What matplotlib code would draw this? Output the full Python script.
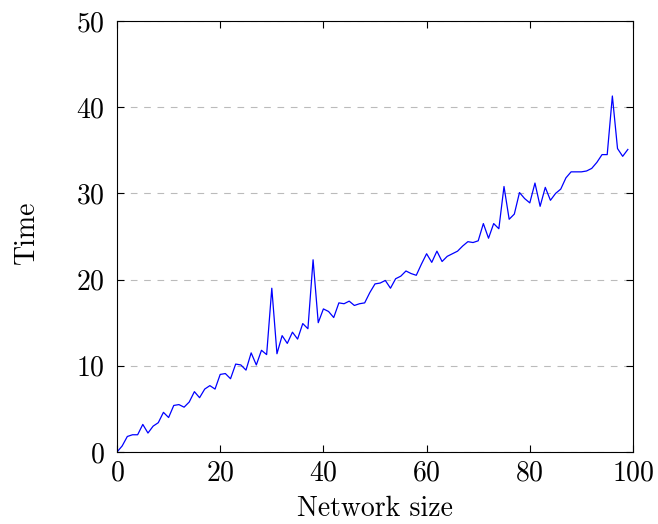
import matplotlib
matplotlib.use("Agg")
import matplotlib.pyplot as plt

plt.rcParams['font.family'] = 'serif'
plt.rcParams['font.serif'] = ['cmr10', 'DejaVu Serif']
plt.rcParams['mathtext.fontset'] = 'cm'
plt.rcParams['axes.formatter.use_mathtext'] = True

# network size 0..99
sizes = list(range(100))
times = [
    0.0, 0.7, 1.8, 2.0, 2.0, 3.2, 2.2, 3.0, 3.4, 4.6,
    4.0, 5.4, 5.5, 5.2, 5.8, 7.0, 6.3, 7.3, 7.7, 7.3,
    9.0, 9.1, 8.5, 10.2, 10.1, 9.5, 11.5, 10.1, 11.8, 11.3,
    19.0, 11.4, 13.5, 12.6, 13.9, 13.1, 14.9, 14.3, 22.3, 15.0,
    16.6, 16.3, 15.6, 17.3, 17.2, 17.5, 17.0, 17.2, 17.3, 18.5,
    19.5, 19.6, 19.9, 19.0, 20.1, 20.4, 21.0, 20.7, 20.5, 21.8,
    23.0, 22.0, 23.3, 22.1, 22.7, 23.0, 23.3, 23.9, 24.4, 24.3,
    24.5, 26.5, 24.8, 26.5, 25.9, 30.8, 27.0, 27.6, 30.1, 29.4,
    28.9, 31.2, 28.5, 30.7, 29.2, 30.0, 30.5, 31.8, 32.5, 32.5,
    32.5, 32.6, 32.9, 33.6, 34.5, 34.5, 41.3, 35.2, 34.3, 35.1,
]

fig = plt.figure(figsize=(6.58, 5.24), dpi=100)
ax = fig.add_axes([117/658, 1 - 452/524, (633-117)/658, (452-21)/524])

ax.plot(sizes, times, color='blue', linewidth=0.9)
ax.set_xlim(0, 100)
ax.set_ylim(0, 50)
ax.set_xticks([0, 20, 40, 60, 80, 100])
ax.set_yticks([0, 10, 20, 30, 40, 50])
ax.yaxis.grid(True, linestyle=(0, (6, 6)), color='#bbbbbb', linewidth=0.8)
ax.set_axisbelow(True)
ax.tick_params(direction='in', top=True, right=True, labelsize=20, length=5, width=0.8)
ax.tick_params(axis='y', pad=9)
ax.tick_params(axis='x', pad=6)
for s in ax.spines.values():
    s.set_linewidth(0.8)

ax.set_xlabel('Network size', fontsize=20)
ax.set_ylabel('Time', fontsize=20)
ax.xaxis.set_label_coords(0.5, -0.102)
ax.yaxis.set_label_coords(-0.15, 0.51)

fig.savefig('out.png', dpi=100)
